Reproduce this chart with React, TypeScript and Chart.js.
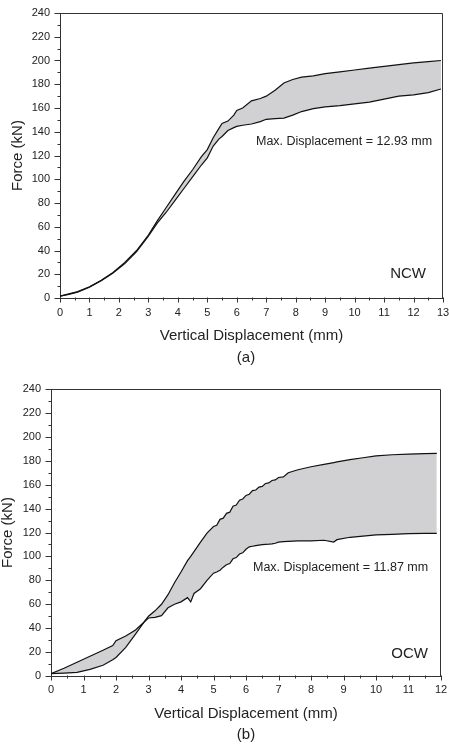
import React, { useEffect, useRef } from 'react';
import { Chart, registerables } from 'chart.js';

Chart.register(...registerables);

// ---------- Data (a) NCW ----------
const ncwDisp = [0, 0.3, 0.6, 1.0, 1.4, 1.8, 2.2, 2.6, 3.0, 3.3, 3.6, 3.9, 4.2, 4.5, 4.8, 5.0, 5.2, 5.4, 5.5, 5.7, 5.9, 6.0, 6.2, 6.5, 6.8, 7.0, 7.3, 7.6, 7.9, 8.2, 8.6, 9.0, 9.5, 10.0, 10.5, 11.0, 11.5, 12.0, 12.5, 12.93];
const ncwUpper = [1.5, 3.5, 5.5, 9.5, 15, 21.5, 30, 40, 53, 65, 76, 87, 98, 108, 119, 125, 135, 143, 147, 149, 154, 158, 160, 166, 168, 170, 175, 181, 184, 186, 187, 189, 190.5, 192, 193.5, 195, 196.5, 198, 199, 200];
const ncwLower = [1.5, 3, 5, 9, 14.5, 21, 29, 39, 52, 63, 72, 82, 92, 102, 112, 118, 128, 134, 136, 141, 143.5, 144.5, 145.5, 146.5, 148.5, 150.5, 151, 151.5, 154, 157, 159.5, 161, 162, 163.5, 165, 167.5, 170, 171, 173, 176];

// ---------- Data (b) OCW ----------
const ocwDisp = [0, 0.4, 0.8, 1.2, 1.6, 1.9, 2.0, 2.3, 2.6, 2.9, 3.0, 3.2, 3.4, 3.6, 3.8, 4.0, 4.2, 4.3, 4.4, 4.6, 4.8, 5.0, 5.1, 5.2, 5.3, 5.4, 5.5, 5.6, 5.7, 5.8, 5.9, 6.0, 6.1, 6.2, 6.3, 6.4, 6.5, 6.6, 6.7, 6.8, 6.9, 7.0, 7.15, 7.3, 7.6, 8.0, 8.4, 8.7, 8.8, 9.2, 9.6, 10.0, 10.5, 11.0, 11.5, 11.87];
const ocwUpper = [2, 2.4, 3, 5.5, 9, 13.5, 15.5, 24, 35, 46.5, 50, 54.5, 60, 68, 78, 87, 96.5, 100, 104, 112, 119.5, 125, 126, 131, 132, 136, 137, 142, 143, 147, 148, 151, 152, 155, 155.5, 158, 158.5, 161, 161.5, 163.5, 164, 166, 166.5, 170, 172.5, 175, 177, 178.5, 179, 181, 182.5, 184, 185, 185.5, 186, 186.2];
const ocwLower = [2, 6.5, 11.5, 16.5, 21.5, 25.5, 29.5, 33.5, 38.5, 46, 48.5, 49, 50.5, 57, 60, 62, 65.5, 62, 69, 73, 80, 86, 87, 88.5, 91, 93, 94, 98, 99, 102, 103, 106, 108, 108.5, 109, 109.5, 109.8, 110, 110.2, 110.5, 111, 112, 112.3, 112.5, 113, 113, 113.5, 112, 114, 116, 117, 118, 118.5, 119, 119.2, 119.3];

// ---------- Axes ----------
const forceMin = 0;
const forceMax = 240;
const forceStep = 10;
const forceLabelEvery = 20;
const ncwDispMax = 13;
const ocwDispMax = 12;
const dispStep = 0.5;

const FONT = "'Liberation Sans', Arial, Helvetica, sans-serif";
const INK = '#222';
const AXIS = '#333';
const FILL = '#d1d1d3';

type Note = { text: string; x: number; y: number; align: CanvasTextAlign; size: number };

type Panel = {
  disp: number[];
  upper: number[];
  lower: number[];
  xMax: number;
  height: number;
  padTop: number;
  padRight: number;
  yWidth: number;
  xHeight: number;
  yTitlePad: number;
  xTitlePad: number;
  xTickPad: number;
  yTickPad: number;
  notes: Note[];
};

const panelA: Panel = {
  disp: ncwDisp,
  upper: ncwUpper,
  lower: ncwLower,
  xMax: ncwDispMax,
  height: 372,
  padTop: 13,
  padRight: 6,
  yWidth: 60,
  xHeight: 74,
  yTitlePad: 8.5,
  xTitlePad: 27,
  xTickPad: 8,
  yTickPad: 10,
  notes: [
    { text: 'Max. Displacement = 12.93 mm', x: 256, y: 142, align: 'left', size: 12.5 },
    { text: 'NCW', x: 426, y: 274, align: 'right', size: 15 },
    { text: '(a)', x: 246, y: 358, align: 'center', size: 15 },
  ],
};

const panelB: Panel = {
  disp: ocwDisp,
  upper: ocwUpper,
  lower: ocwLower,
  xMax: ocwDispMax,
  height: 374,
  padTop: 17,
  padRight: 8,
  yWidth: 51,
  xHeight: 70,
  yTitlePad: -1.5,
  xTitlePad: 23,
  xTickPad: 7.5,
  yTickPad: 10,
  notes: [
    { text: 'Max. Displacement = 11.87 mm', x: 253, y: 196, align: 'left', size: 12.5 },
    { text: 'OCW', x: 428, y: 282, align: 'right', size: 15 },
    { text: '(b)', x: 246, y: 363, align: 'center', size: 15 },
  ],
};

const decorPlugin = {
  id: 'decor',
  afterDraw(chart: any, _args: any, opts: any) {
    const { ctx, chartArea: a, scales } = chart;
    const xs = scales.x;
    const ys = scales.y;
    ctx.save();
    ctx.strokeStyle = AXIS;
    ctx.lineWidth = 1;
    // frame: top and right
    const top = Math.round(a.top) + 0.5;
    const right = Math.round(a.right) - 0.5;
    ctx.beginPath();
    ctx.moveTo(Math.round(a.left), top);
    ctx.lineTo(right, top);
    ctx.lineTo(right, Math.round(a.bottom));
    ctx.stroke();
    // x ticks (outward)
    const bottom = Math.round(a.bottom) - 0.5;
    xs.ticks.forEach((t: any) => {
      const px = Math.round(xs.getPixelForValue(t.value)) + 0.5;
      const len = Number.isInteger(t.value) ? 5 : 3;
      ctx.beginPath();
      ctx.moveTo(px, bottom);
      ctx.lineTo(px, bottom + len);
      ctx.stroke();
    });
    // y ticks (outward)
    const left = Math.round(a.left) + 0.5;
    ys.ticks.forEach((t: any) => {
      const py = Math.round(ys.getPixelForValue(t.value)) + 0.5;
      const len = t.value % forceLabelEvery === 0 ? 6 : 3;
      ctx.beginPath();
      ctx.moveTo(left, py);
      ctx.lineTo(left - len, py);
      ctx.stroke();
    });
    // notes
    ctx.fillStyle = INK;
    ctx.textBaseline = 'middle';
    (opts.notes || []).forEach((n: Note) => {
      ctx.font = `${n.size}px ${FONT}`;
      ctx.textAlign = n.align;
      ctx.fillText(n.text, n.x, n.y);
    });
    ctx.restore();
  },
};

function buildConfig(p: Panel): any {
  const lowerPts = p.disp.map((d, i) => ({ x: d, y: p.lower[i] }));
  const upperPts = p.disp.map((d, i) => ({ x: d, y: p.upper[i] }));
  return {
    type: 'line',
    data: {
      datasets: [
        {
          label: 'lower',
          data: lowerPts,
          borderColor: '#111',
          borderWidth: 1.2,
          pointRadius: 0,
          tension: 0,
          fill: false,
        },
        {
          label: 'upper',
          data: upperPts,
          borderColor: '#111',
          borderWidth: 1.2,
          pointRadius: 0,
          tension: 0,
          fill: '-1',
          backgroundColor: FILL,
        },
      ],
    },
    options: {
      animation: false,
      responsive: false,
      devicePixelRatio: 1,
      events: [],
      layout: { padding: { top: p.padTop, right: p.padRight, left: 0, bottom: 0 } },
      plugins: {
        legend: { display: false },
        tooltip: { enabled: false },
        filler: { drawTime: 'beforeDatasetsDraw' },
        decor: { notes: p.notes },
      },
      scales: {
        x: {
          type: 'linear',
          min: 0,
          max: p.xMax,
          grid: { display: false, drawTicks: false },
          border: { display: true, color: AXIS, width: 1 },
          ticks: {
            stepSize: dispStep,
            autoSkip: false,
            maxRotation: 0,
            padding: p.xTickPad,
            color: INK,
            font: { family: FONT, size: 11 },
            callback: (v: number) => (Number.isInteger(v) ? String(v) : ''),
          },
          title: {
            display: true,
            text: 'Vertical Displacement (mm)',
            color: INK,
            font: { family: FONT, size: 15 },
            padding: { top: 0, bottom: p.xTitlePad },
          },
          afterFit: (s: any) => {
            s.height = p.xHeight;
            s.paddingLeft = 0;
            s.paddingRight = 0;
          },
        },
        y: {
          type: 'linear',
          min: forceMin,
          max: forceMax,
          grid: { display: false, drawTicks: false },
          border: { display: true, color: AXIS, width: 1 },
          ticks: {
            stepSize: forceStep,
            autoSkip: false,
            padding: p.yTickPad,
            color: INK,
            font: { family: FONT, size: 11 },
            callback: (v: number) => (v % forceLabelEvery === 0 ? String(v) : ''),
          },
          title: {
            display: true,
            text: 'Force (kN)',
            color: INK,
            font: { family: FONT, size: 15 },
            padding: { top: p.yTitlePad, bottom: 0 },
          },
          afterFit: (s: any) => {
            s.width = p.yWidth;
            s.paddingTop = 0;
            s.paddingBottom = 0;
          },
        },
      },
    },
    plugins: [decorPlugin],
  };
}

function PanelChart({ panel, top }: { panel: Panel; top: number }) {
  const ref = useRef<HTMLCanvasElement | null>(null);
  useEffect(() => {
    if (!ref.current) return;
    const chart = new Chart(ref.current, buildConfig(panel));
    return () => chart.destroy();
  }, [panel]);
  return (
    <div style={{ position: 'absolute', left: 0, top, width: 449, height: panel.height }}>
      <canvas ref={ref} width={449} height={panel.height} style={{ display: 'block', width: 449, height: panel.height }} />
    </div>
  );
}

export default function App() {
  return (
    <div style={{ position: 'absolute', left: 0, top: 0, width: 449, height: 746, background: '#fff', overflow: 'hidden' }}>
      <PanelChart panel={panelA} top={0} />
      <PanelChart panel={panelB} top={372} />
    </div>
  );
}
